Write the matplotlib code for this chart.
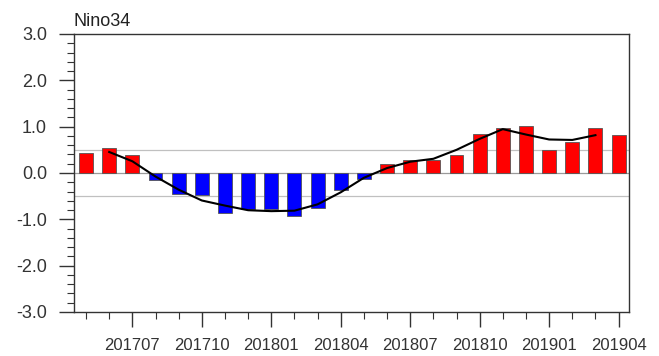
"""
Monthly Nino3.4 SST anomaly bars with a 3-month running mean,
May 2017 through April 2019.
"""

import matplotlib
matplotlib.use("Agg")
import matplotlib.pyplot as plt
from matplotlib.ticker import MultipleLocator
import numpy as np

plt.rcParams["font.family"] = ["Liberation Sans", "DejaVu Sans"]

months = ["201705", "201706", "201707", "201708", "201709", "201710",
          "201711", "201712", "201801", "201802", "201803", "201804",
          "201805", "201806", "201807", "201808", "201809", "201810",
          "201811", "201812", "201901", "201902", "201903", "201904"]
nino34 = [0.44, 0.54, 0.38, -0.16, -0.45, -0.47,
          -0.86, -0.78, -0.77, -0.92, -0.75, -0.36,
          -0.14, 0.19, 0.27, 0.27, 0.38, 0.85,
          0.98, 1.01, 0.50, 0.66, 0.98, 0.81]
labelled = ["201707", "201710", "201801", "201804",
            "201807", "201810", "201901", "201904"]
y_ticks = [-3.0, -2.0, -1.0, 0.0, 1.0, 2.0, 3.0]

vals = np.array(nino34)
x = np.arange(len(months))
# centred 3-month running mean, undefined at both ends
run3 = np.convolve(vals, np.ones(3) / 3, mode="valid")
x_run = x[1:-1]

fig = plt.figure(figsize=(6.59, 3.56), dpi=100)
ax = fig.add_axes([0.1123, 0.1236, 0.8422, 0.7809])

colors = ["#ff0000" if v >= 0 else "#0000ff" for v in vals]
ax.bar(x, vals, width=0.6, color=colors, edgecolor="#555555", linewidth=0.6, zorder=2)

for ref in (0.5, -0.5):
    ax.axhline(ref, color="#c0c0c0", linewidth=0.9, zorder=1)
ax.axhline(0.0, color="#9a9a9a", linewidth=0.9, zorder=1)

ax.plot(x_run, run3, color="black", linewidth=1.5, zorder=3)

ax.set_xlim(-0.52, 23.45)
ax.set_ylim(-3.0, 3.0)

ax.set_xticks([months.index(m) for m in labelled])
ax.set_xticklabels(labelled)
ax.xaxis.set_minor_locator(MultipleLocator(1))
ax.set_yticks(y_ticks)
ax.set_yticklabels([f"{t:.1f}" for t in y_ticks])
ax.yaxis.set_minor_locator(MultipleLocator(0.2))

ax.tick_params(axis="both", which="major", direction="out", length=10.5,
               width=1.0, color="#333333", labelsize=12, labelcolor="#333333")
ax.tick_params(axis="both", which="minor", direction="out", length=5,
               width=0.8, color="#333333")
ax.tick_params(axis="x", which="major", pad=8)
ax.tick_params(axis="y", which="major", labelsize=13, pad=9)
ax.tick_params(top=False, right=False, which="both")

for side in ax.spines.values():
    side.set_color("#333333")
    side.set_linewidth(1.0)

fig.text(0.1108, 0.928, "Nino34", fontsize=13, color="#222222", ha="left", va="baseline")

fig.savefig("out.png", dpi=100)
